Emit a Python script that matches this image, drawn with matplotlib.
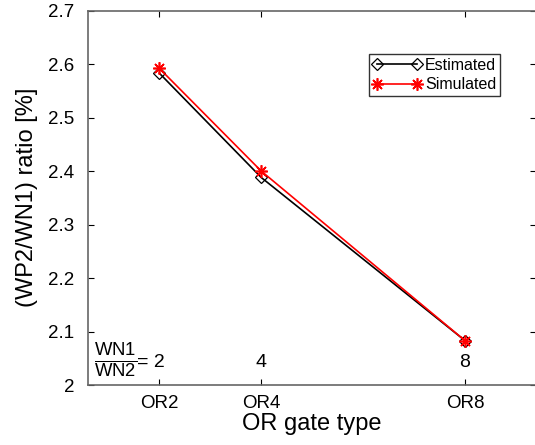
import matplotlib
matplotlib.use("Agg")
import matplotlib.pyplot as plt

plt.rcParams['font.family'] = ['Liberation Sans', 'DejaVu Sans']
plt.rcParams['mathtext.fontset'] = 'custom'
plt.rcParams['mathtext.rm'] = 'Liberation Sans'
plt.rcParams['mathtext.it'] = 'Liberation Sans'

x_pos = [2, 4, 8]
gate_labels = ['OR2', 'OR4', 'OR8']
estimated = [2.583, 2.388, 2.083]
simulated = [2.592, 2.400, 2.083]
ratio_labels = ['2', '4', '8']

fig = plt.figure(figsize=(5.35, 4.45), dpi=100)
ax = fig.add_axes([0.1645, 0.1348, 0.838, 0.8414])

ax.plot(x_pos, estimated, color='black', lw=1.2, marker='D', markersize=6,
        markerfacecolor='none', markeredgecolor='black', markeredgewidth=0.9,
        label='Estimated')
ax.plot(x_pos, simulated, color='red', lw=1.2, marker=(8, 2, 0), markersize=9,
        markeredgecolor='red', markeredgewidth=1.2, label='Simulated')

ax.set_xlim(0.6, 9.4)
ax.set_ylim(2.0, 2.7)
ax.set_xticks(x_pos)
ax.set_xticklabels(gate_labels)
ax.set_yticks([2.0, 2.1, 2.2, 2.3, 2.4, 2.5, 2.6, 2.7])
ax.set_yticklabels(['2', '2.1', '2.2', '2.3', '2.4', '2.5', '2.6', '2.7'])
ax.tick_params(direction='in', length=4, width=0.8, top=True, right=True,
               labelsize=13.5)
ax.tick_params(axis='x', pad=7)
ax.tick_params(axis='y', pad=10)
for s in ax.spines.values():
    s.set_color('#666666')
    s.set_linewidth(1.2)

ax.set_xlabel('OR gate type', fontsize=17, labelpad=1)
ax.set_ylabel('(WP2/WN1) ratio [%]', fontsize=17, labelpad=7)

# ratio annotations
ax.text(0.72, 2.045, r'$\frac{\mathrm{WN1}}{\mathrm{WN2}}$', fontsize=19,
        ha='left', va='center')
ax.text(1.56, 2.043, '= ' + ratio_labels[0], fontsize=14, ha='left', va='center')
ax.text(x_pos[1], 2.043, ratio_labels[1], fontsize=14, ha='center', va='center')
ax.text(x_pos[2], 2.043, ratio_labels[2], fontsize=14, ha='center', va='center')

leg = ax.legend(loc='upper right', bbox_to_anchor=(0.918, 0.884), fontsize=11.5,
                frameon=True, fancybox=False, edgecolor='black', numpoints=2,
                handlelength=3.1, handletextpad=0.2, borderpad=0.22,
                labelspacing=0.3, borderaxespad=0)
leg.get_frame().set_linewidth(1.0)

fig.savefig('out.png', dpi=100)
